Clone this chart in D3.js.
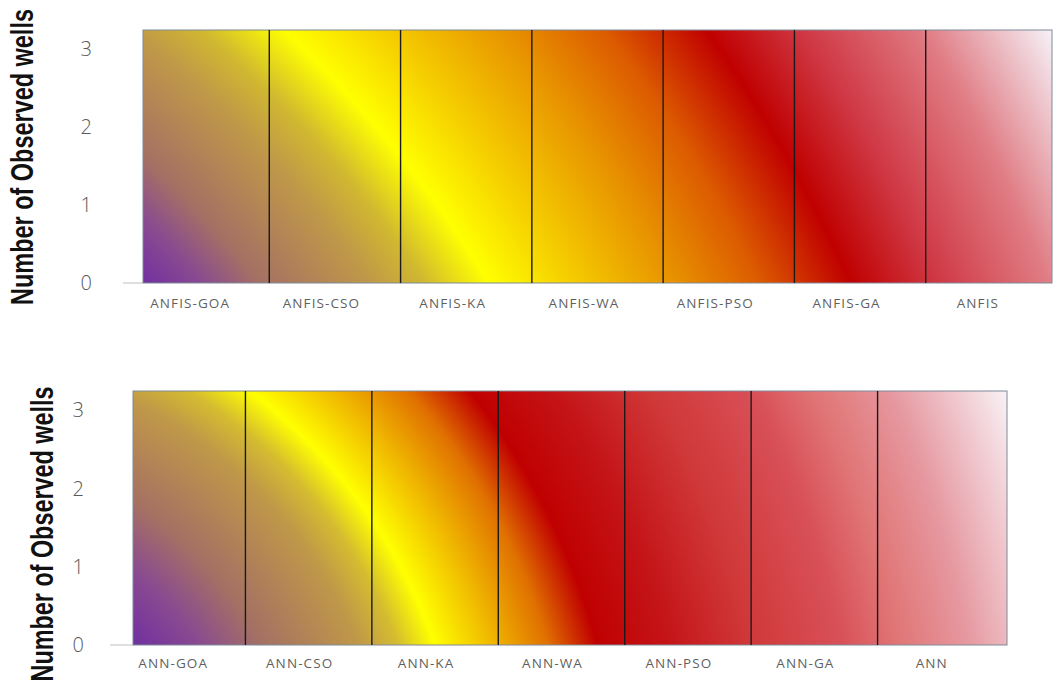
<!DOCTYPE html>
<html>
<head>
<meta charset="utf-8">
<script src="https://cdn.jsdelivr.net/npm/d3@7"></script>
<style>
  body { margin: 0; background: #fff; }
  svg { display: block; }
</style>
</head>
<body>
<svg width="1054" height="691"></svg>
<script>
// Two panels of equal-height bars, filled with one gradient running across each panel.

var topCategories = ["ANFIS-GOA", "ANFIS-CSO", "ANFIS-KA", "ANFIS-WA", "ANFIS-PSO", "ANFIS-GA", "ANFIS"];
var topValues = [3.25, 3.25, 3.25, 3.25, 3.25, 3.25, 3.25];

var bottomCategories = ["ANN-GOA", "ANN-CSO", "ANN-KA", "ANN-WA", "ANN-PSO", "ANN-GA", "ANN"];
var bottomValues = [3.25, 3.25, 3.25, 3.25, 3.25, 3.25, 3.25];

var yTicks = [0, 1, 2, 3];
var yMax = 3.25;
var yTitle = "Number of Observed wells";

// layout of each panel (pixels)
var topPanel = {
    id: "gradTop",
    left: 143, right: 1052, top: 30, bottom: 283,
    bandStart: 138, bandEnd: 1057,
    labelShift: -13.5, labelPad: 15,
    tickPad: 51, stub: 20,
    titleX: 33, titleY: 157, titleLen: 296,
    center: [-543, 912],
    stops: [
        [0.00, "#7030a0"], [0.05, "#8a4a90"], [0.10, "#a47064"], [0.20, "#c09848"],
        [0.25, "#d0b830"], [0.312, "#ffff00"], [0.40, "#f4c800"], [0.49, "#e89400"],
        [0.58, "#dc5a00"], [0.671, "#c00000"], [0.76, "#cf3844"], [0.875, "#e07c84"],
        [1.00, "#f6f2f8"]
    ]
};

var bottomPanel = {
    id: "gradBottom",
    left: 133, right: 1007, top: 391, bottom: 645,
    bandStart: 119, bandEnd: 1004,
    labelShift: -9, labelPad: 13,
    tickPad: 49, stub: 23,
    titleX: 53, titleY: 534, titleLen: 295,
    center: [-76, 823],
    stops: [
        [0.00, "#7030a0"], [0.06, "#8a4a90"], [0.12, "#a47064"], [0.22, "#c09848"],
        [0.26, "#d4bc30"], [0.299, "#ffff00"], [0.36, "#f0b800"], [0.42, "#e07000"],
        [0.473, "#c00000"], [0.55, "#c41418"], [0.64, "#d03838"], [0.74, "#d85058"],
        [0.80, "#e07474"], [0.88, "#e698a0"], [1.00, "#f8f2f6"]
    ]
};

var svg = d3.select("svg");
var defs = svg.append("defs");

function drawPanel(cfg, cats, vals) {
    var x = d3.scaleBand().domain(cats).range([cfg.bandStart, cfg.bandEnd]).padding(0);
    var y = d3.scaleLinear().domain([0, yMax]).range([cfg.bottom, cfg.top]);

    // radial gradient from a point far below-left, so the colour bands lean diagonally
    var cx = cfg.center[0], cy = cfg.center[1];
    var r0 = Math.hypot(cfg.left - cx, cfg.bottom - cy);
    var r1 = Math.hypot(cfg.right - cx, cfg.top - cy);
    var grad = defs.append("radialGradient")
        .attr("id", cfg.id)
        .attr("gradientUnits", "userSpaceOnUse")
        .attr("cx", cx).attr("cy", cy).attr("r", r1)
        .attr("fx", cx).attr("fy", cy);
    grad.selectAll("stop")
        .data(cfg.stops)
        .enter().append("stop")
            .attr("offset", function(d) { return (r0 + d[0] * (r1 - r0)) / r1; })
            .attr("stop-color", function(d) { return d[1]; });

    var g = svg.append("g");

    // baseline stub left of the bars
    g.append("line")
        .attr("x1", cfg.left - cfg.stub).attr("x2", cfg.left)
        .attr("y1", y(0)).attr("y2", y(0))
        .attr("stroke", "#bfbfbf").attr("stroke-width", 1);

    function x0(d) { return Math.max(x(d), cfg.left); }
    function x1(d, i) {
        return i === cats.length - 1 ? cfg.right : Math.min(x(d) + x.bandwidth(), cfg.right);
    }

    g.selectAll("rect.bar")
        .data(cats)
        .enter().append("rect")
            .attr("class", "bar")
            .attr("x", x0)
            .attr("width", function(d, i) { return x1(d, i) - x0(d); })
            .attr("y", function(d, i) { return y(vals[i]); })
            .attr("height", function(d, i) { return y(0) - y(vals[i]); })
            .attr("fill", "url(#" + cfg.id + ")");

    // plot frame
    g.append("rect")
        .attr("x", cfg.left).attr("y", y(yMax))
        .attr("width", cfg.right - cfg.left).attr("height", y(0) - y(yMax))
        .attr("fill", "none")
        .attr("stroke", "#7f8a99").attr("stroke-width", 1);

    // dark separators between bars
    g.selectAll("line.sep")
        .data(cats.slice(1))
        .enter().append("line")
            .attr("class", "sep")
            .attr("x1", function(d) { return x(d); })
            .attr("x2", function(d) { return x(d); })
            .attr("y1", function(d, i) { return y(Math.max(vals[i], vals[i + 1])); })
            .attr("y2", y(0))
            .attr("stroke", "#1a1a1a").attr("stroke-width", 1.4);

    // y axis
    var yAxis = d3.axisLeft(y)
        .tickValues(yTicks)
        .tickSize(0)
        .tickPadding(cfg.tickPad)
        .tickFormat(d3.format("d"));
    var ya = g.append("g")
        .attr("transform", "translate(" + cfg.left + ",0)")
        .call(yAxis);
    ya.select(".domain").remove();
    ya.selectAll("text")
        .attr("fill", "#595959")
        .style("font-family", "'Open Sans', sans-serif")
        .style("font-size", "20px")
        .style("font-weight", "300");

    // x labels
    var xAxis = d3.axisBottom(x).tickSize(0).tickPadding(cfg.labelPad);
    var xa = g.append("g")
        .attr("transform", "translate(" + cfg.labelShift + "," + cfg.bottom + ")")
        .call(xAxis);
    xa.select(".domain").remove();
    xa.selectAll("text")
        .attr("fill", "#5f5f5f")
        .style("font-family", "'Open Sans', sans-serif")
        .style("font-size", "13.5px")
        .style("letter-spacing", "1.1px");

    // y title: condensed bold, squeezed horizontally with a scale
    var title = g.append("text")
        .attr("text-anchor", "middle")
        .style("font-family", "'Liberation Sans', Arial, sans-serif")
        .style("font-weight", "bold")
        .style("font-size", "31px")
        .attr("fill", "#111")
        .text(yTitle);
    var sx = cfg.titleLen / title.node().getComputedTextLength();
    title.attr("transform", "translate(" + cfg.titleX + "," + cfg.titleY + ") rotate(-90) scale(" + sx + ",1)");
}

// MAIN
drawPanel(topPanel, topCategories, topValues);
drawPanel(bottomPanel, bottomCategories, bottomValues);
</script>
</body>
</html>
